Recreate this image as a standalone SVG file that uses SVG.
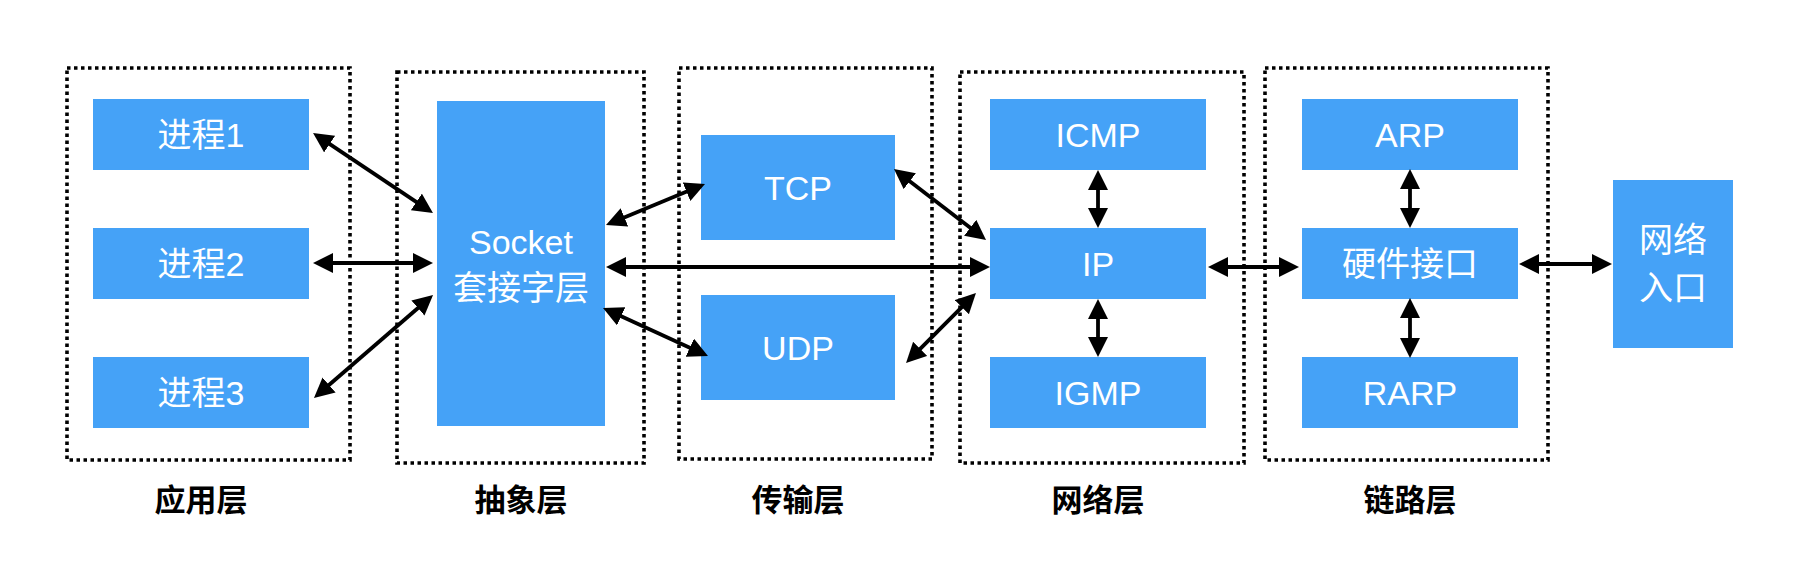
<svg xmlns="http://www.w3.org/2000/svg" width="1800" height="572" viewBox="0 0 1800 572">
<style>
.frame{fill:none;stroke:#000;stroke-width:3.6;stroke-dasharray:3.5 3.5}
.box{fill:#45A2F7}
.t{fill:#fff;font-family:"Liberation Sans","Noto Sans CJK SC",sans-serif;font-size:34px;text-anchor:middle;dominant-baseline:central}
.lbl{fill:#000;font-family:"Noto Sans CJK SC","Liberation Sans",sans-serif;font-size:31px;font-weight:bold;text-anchor:middle;dominant-baseline:central}
.c line{stroke:#000;stroke-width:3.8;marker-start:url(#ah);marker-end:url(#ah)}
</style>
<defs>
<marker id="ah" viewBox="0 0 20 20" markerWidth="20" markerHeight="20" refX="12" refY="10" orient="auto-start-reverse" markerUnits="userSpaceOnUse">
<path d="M0,0 L20,10 L0,20 z" fill="#000"/>
</marker>
</defs>
<rect width="1800" height="572" fill="#fff"/>
<g id="frames">
<rect class="frame" x="67" y="68" width="283" height="392"/>
<rect class="frame" x="397" y="72" width="247" height="391"/>
<rect class="frame" x="679" y="68" width="253" height="391"/>
<rect class="frame" x="960" y="72" width="284" height="391"/>
<rect class="frame" x="1265" y="68" width="283" height="392"/>
</g>
<g id="labels">
<text class="lbl" x="201" y="497">应用层</text>
<text class="lbl" x="521" y="497">抽象层</text>
<text class="lbl" x="798" y="497">传输层</text>
<text class="lbl" x="1098" y="497">网络层</text>
<text class="lbl" x="1410" y="497">链路层</text>
</g>
<g id="p1"><rect class="box" x="93" y="99" width="216" height="71"/><text class="t" x="201" y="135">进程1</text></g>
<g id="p2"><rect class="box" x="93" y="228" width="216" height="71"/><text class="t" x="201" y="264">进程2</text></g>
<g id="p3"><rect class="box" x="93" y="357" width="216" height="71"/><text class="t" x="201" y="393">进程3</text></g>
<g id="socket"><rect class="box" x="437" y="101" width="168" height="325"/><text class="t" x="521" y="242">Socket</text><text class="t" x="521" y="288">套接字层</text></g>
<g id="tcp"><rect class="box" x="701" y="135" width="194" height="105"/><text class="t" x="798" y="188">TCP</text></g>
<g id="udp"><rect class="box" x="701" y="295" width="194" height="105"/><text class="t" x="798" y="348">UDP</text></g>
<g id="icmp"><rect class="box" x="990" y="99" width="216" height="71"/><text class="t" x="1098" y="135">ICMP</text></g>
<g id="ip"><rect class="box" x="990" y="228" width="216" height="71"/><text class="t" x="1098" y="264">IP</text></g>
<g id="igmp"><rect class="box" x="990" y="357" width="216" height="71"/><text class="t" x="1098" y="393">IGMP</text></g>
<g id="arp"><rect class="box" x="1302" y="99" width="216" height="71"/><text class="t" x="1410" y="135">ARP</text></g>
<g id="hw"><rect class="box" x="1302" y="228" width="216" height="71"/><text class="t" x="1410" y="264">硬件接口</text></g>
<g id="rarp"><rect class="box" x="1302" y="357" width="216" height="71"/><text class="t" x="1410" y="393">RARP</text></g>
<g id="entry"><rect class="box" x="1613" y="180" width="120" height="168"/><text class="t" x="1673" y="240">网络</text><text class="t" x="1673" y="288">入口</text></g>
<g id="connectors" class="c">
<line x1="319.7" y1="137.4" x2="426.3" y2="208.6"/>
<line x1="321" y1="263" x2="425" y2="263"/>
<line x1="320" y1="392.8" x2="427" y2="300.2"/>
<line x1="613.4" y1="222" x2="697.6" y2="187.1"/>
<line x1="614" y1="267" x2="982" y2="267"/>
<line x1="610.3" y1="311.3" x2="700.7" y2="352.7"/>
<line x1="900.3" y1="173.9" x2="979.7" y2="235.1"/>
<line x1="911.7" y1="357.3" x2="970.3" y2="298.7"/>
<line x1="1098" y1="178" x2="1098" y2="220"/>
<line x1="1098" y1="307" x2="1098" y2="349"/>
<line x1="1216" y1="267" x2="1291" y2="267"/>
<line x1="1527" y1="264" x2="1604" y2="264"/>
<line x1="1410" y1="177" x2="1410" y2="220"/>
<line x1="1410" y1="306" x2="1410" y2="350"/>
</g>
</svg>
